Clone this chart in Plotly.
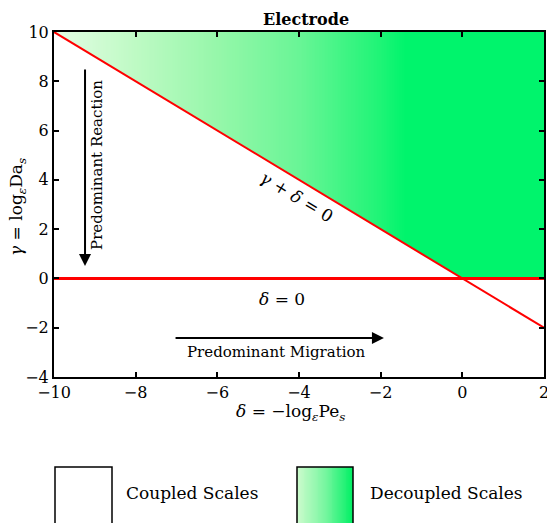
import numpy as np
import plotly.graph_objects as go

# ---------------- data ----------------
x_range = [-10, 2]
y_range = [-4, 10]
x_ticks = [-10, -8, -6, -4, -2, 0, 2]
y_ticks = [-4, -2, 0, 2, 4, 6, 8, 10]

diag_x = [-10, 2]          # gamma + delta = 0
diag_y = [10, -2]
zero_x = [-10, 2]          # delta = 0 line (gamma = 0)
zero_y = [0, 0]

# white (coupled) triangle that masks the gradient below the diagonal
coupled_x = [-10, 0, -10]
coupled_y = [10, 0, 0]
decoupled_y = [0, 10]

# gradient stops (x position -> colour)
grad_x = [-10, -8, -6, -4, -2, -1.4, 2]
grad_c = ["rgb(228,253,228)", "rgb(190,250,196)", "rgb(150,247,170)",
          "rgb(105,245,150)", "rgb(30,244,118)", "rgb(0,244,108)", "rgb(0,244,108)"]

legend_grad_c = ["rgb(205,251,205)", "rgb(120,246,160)", "rgb(0,240,100)"]

W, H = 547, 523

def px(x):
    return x / W

def py(y):
    return 1 - y / H

# ---------------- figure ----------------
fig = go.Figure()

edges = np.linspace(x_range[0], x_range[1], 301)
centers = (edges[:-1] + edges[1:]) / 2
span = grad_x[-1] - grad_x[0]
cs = [[(gx - grad_x[0]) / span, c] for gx, c in zip(grad_x, grad_c)]
fig.add_trace(go.Heatmap(x=edges, y=decoupled_y, z=[centers.tolist()],
                         colorscale=cs, zmin=grad_x[0], zmax=grad_x[-1],
                         showscale=False, hoverinfo="skip"))

fig.add_trace(go.Scatter(x=coupled_x, y=coupled_y, fill="toself",
                         fillcolor="white", mode="none", showlegend=False,
                         hoverinfo="skip"))

fig.add_trace(go.Scatter(x=zero_x, y=zero_y, mode="lines",
                         line=dict(color="#ff0000", width=3), showlegend=False))
fig.add_trace(go.Scatter(x=diag_x, y=diag_y, mode="lines",
                         line=dict(color="#ff0000", width=2), showlegend=False))

# legend gradient box
lg = np.linspace(0, 1, 61)
lcs = [[i / (len(legend_grad_c) - 1), c] for i, c in enumerate(legend_grad_c)]
fig.add_trace(go.Heatmap(x=lg, y=[0, 1], z=[((lg[:-1] + lg[1:]) / 2).tolist()],
                         colorscale=lcs, zmin=0, zmax=1, showscale=False,
                         xaxis="x2", yaxis="y2", hoverinfo="skip"))

FONT = "DejaVu Serif"
tickfont = dict(family=FONT, size=16, color="black")

fig.update_layout(
    width=W, height=H,
    margin=dict(l=0, r=0, t=0, b=0, autoexpand=False),
    paper_bgcolor="white", plot_bgcolor="white",
    showlegend=False,
    xaxis=dict(domain=[px(54), px(544)], range=x_range, tickvals=x_ticks,
               ticks="inside", ticklen=5, tickwidth=2, tickcolor="black",
               showline=True, linecolor="black", linewidth=2, mirror="allticks",
               showgrid=False, zeroline=False, tickfont=tickfont, anchor="y",
               automargin=False, ticklabeloverflow="allow"),
    yaxis=dict(domain=[py(377), py(32)], range=y_range, tickvals=y_ticks,
               ticks="inside", ticklen=5, tickwidth=2, tickcolor="black",
               showline=True, linecolor="black", linewidth=2, mirror="allticks",
               showgrid=False, zeroline=False, tickfont=tickfont, anchor="x",
               automargin=False, ticklabeloverflow="allow"),
    xaxis2=dict(domain=[px(297), px(353)], range=[0, 1], visible=False,
                anchor="y2", fixedrange=True, automargin=False),
    yaxis2=dict(domain=[0, py(467)], range=[0, 1], visible=False,
                anchor="x2", fixedrange=True, automargin=False),
)

C = dict(xanchor="center", yanchor="middle", showarrow=False)
ann = []
ann.append(dict(x=px(306), y=py(19), xref="paper", yref="paper",
                text="<b>Electrode</b>", **C,
                font=dict(family=FONT, size=16, color="black")))
ann.append(dict(x=px(17), y=py(207), xref="paper", yref="paper",
                text="<i>γ</i> = log<sub><i>ε</i></sub>Da<sub><i>s</i></sub>",
                textangle=-90, **C,
                font=dict(family=FONT, size=17, color="black")))
ann.append(dict(x=px(290), y=py(412), xref="paper", yref="paper",
                text="<i>δ</i> = −log<sub><i>ε</i></sub>Pe<sub><i>s</i></sub>",
                **C, font=dict(family=FONT, size=17, color="black")))
# arrows
ann.append(dict(x=-9.24, y=0.5, ax=-9.24, ay=8.54, xref="x", yref="y",
                axref="x", ayref="y", text="", showarrow=True, arrowhead=2,
                arrowsize=1.2, arrowwidth=2, arrowcolor="black"))
ann.append(dict(x=-1.92, y=-2.42, ax=-7.06, ay=-2.42, xref="x", yref="y",
                axref="x", ayref="y", text="", showarrow=True, arrowhead=2,
                arrowsize=1.2, arrowwidth=2, arrowcolor="black"))
ann.append(dict(x=-8.95, y=4.6, xref="x", yref="y", text="Predominant Reaction",
                textangle=-90, **C,
                font=dict(family=FONT, size=15, color="black")))
ann.append(dict(x=-4.54, y=-2.99, xref="x", yref="y", text="Predominant Migration",
                **C, font=dict(family=FONT, size=15, color="black")))
ann.append(dict(x=-4.42, y=-0.84, xref="x", yref="y", text="<i>δ</i> = 0",
                **C, font=dict(family=FONT, size=17, color="black")))
ann.append(dict(x=-4.05, y=3.30, xref="x", yref="y", text="<i>γ</i> + <i>δ</i> = 0",
                textangle=31, **C,
                font=dict(family=FONT, size=17, color="black")))
# legend texts
ann.append(dict(x=px(124), y=py(493), xref="paper", yref="paper",
                text="Coupled Scales", xanchor="left", yanchor="middle",
                showarrow=False, font=dict(family=FONT, size=17, color="black")))
ann.append(dict(x=px(368), y=py(493), xref="paper", yref="paper",
                text="Decoupled Scales", xanchor="left", yanchor="middle",
                showarrow=False, font=dict(family=FONT, size=17, color="black")))
fig.update_layout(annotations=ann)

fig.add_shape(type="rect", xref="paper", yref="paper",
              x0=px(55), x1=px(112), y0=py(540), y1=py(467),
              line=dict(color="black", width=1.5), fillcolor="white", layer="below")
fig.add_shape(type="rect", xref="paper", yref="paper",
              x0=px(297), x1=px(353), y0=py(540), y1=py(467),
              line=dict(color="black", width=1.5), layer="above")

fig.write_html("out.html", config={"displayModeBar": False},
               post_script="document.body.style.margin='0px';"
                           "document.body.style.overflow='hidden';")
